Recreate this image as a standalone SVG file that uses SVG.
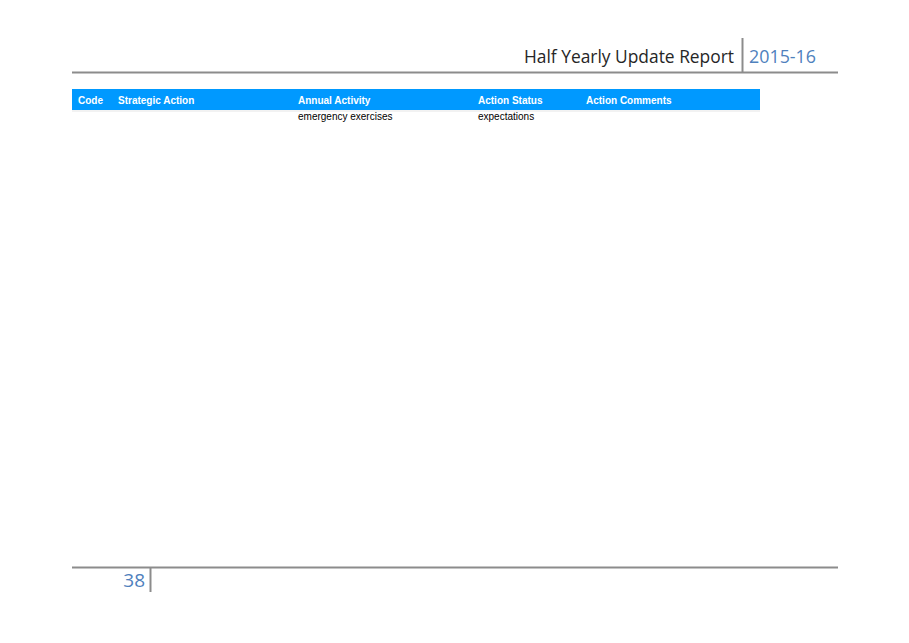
<svg xmlns="http://www.w3.org/2000/svg" width="909" height="643" viewBox="0 0 909 643">
<style>
.rule{stroke:#8c8c8c;stroke-width:2;fill:none}
.hd{font-family:"Liberation Sans",Arial,sans-serif;font-size:10px;font-weight:bold;fill:#ffffff}
.cell{font-family:"Liberation Sans",Arial,sans-serif;font-size:10px;fill:#000000}
.title{font-family:"Open Sans","Noto Sans",sans-serif;font-size:19px;fill:#262626}
.year{font-family:"Open Sans","Noto Sans",sans-serif;font-size:19px;fill:#4f81bd}
</style>
<rect width="909" height="643" fill="#ffffff"/>
<g id="header">
<line class="rule" x1="72" y1="72.5" x2="838" y2="72.5"/>
<line class="rule" x1="742.5" y1="38" x2="742.5" y2="72"/>
<text class="title" x="524" y="63" textLength="210" lengthAdjust="spacingAndGlyphs">Half Yearly Update Report</text>
<text class="year" x="749" y="63" textLength="67" lengthAdjust="spacingAndGlyphs">2015-16</text>
</g>
<g id="table">
<rect x="72" y="89" width="688" height="21" fill="#0099ff"/>
<rect x="72" y="110" width="688" height="2" fill="#f2f2f2"/>
<text class="hd" x="78" y="103.5">Code</text>
<text class="hd" x="118" y="103.5">Strategic Action</text>
<text class="hd" x="298" y="103.5">Annual Activity</text>
<text class="hd" x="478" y="103.5">Action Status</text>
<text class="hd" x="586" y="103.5">Action Comments</text>
<text class="cell" x="298" y="119.5">emergency exercises</text>
<text class="cell" x="478" y="119.5">expectations</text>
</g>
<g id="footer">
<line class="rule" x1="72" y1="567.5" x2="838" y2="567.5"/>
<line class="rule" x1="150.5" y1="567" x2="150.5" y2="592"/>
<text class="year" x="145" y="587" text-anchor="end" font-size="17">38</text>
</g>
</svg>
